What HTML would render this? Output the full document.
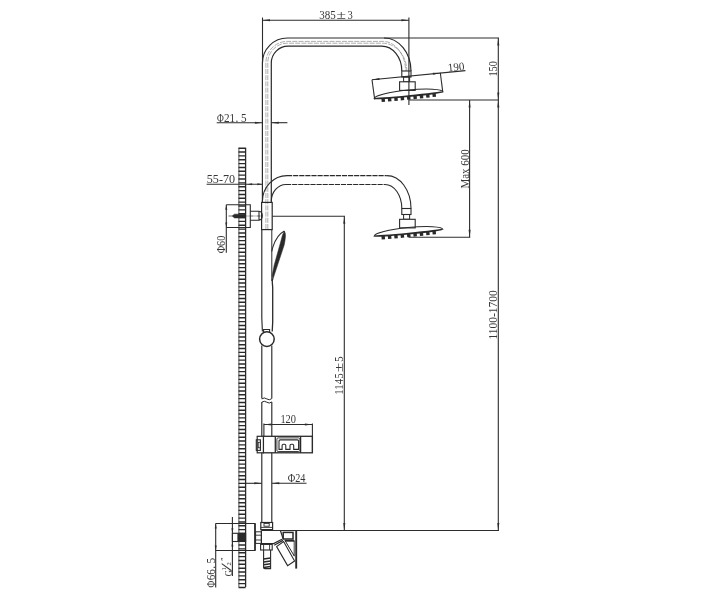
<!DOCTYPE html>
<html lang="en"><head><meta charset="utf-8"><title>Shower column dimensions</title>
<style>
html,body{margin:0;padding:0;background:#fff;}
body{width:706px;height:600px;overflow:hidden;font-family:"Liberation Serif",serif;}
svg{display:block;filter:blur(0.3px);}
</style></head><body>
<svg width="706" height="600" viewBox="0 0 706 600" fill="none" stroke-linecap="butt">
<rect x="0" y="0" width="706" height="600" fill="#fff"/>
<line x1="238.90" y1="147.80" x2="238.90" y2="587.00" stroke="#2a2a2a" stroke-width="0.8" />
<line x1="245.60" y1="147.80" x2="245.60" y2="587.00" stroke="#2a2a2a" stroke-width="1.3" />
<path d="M238.50 148.20H245.60M238.50 152.05H245.60M238.50 155.91H245.60M238.50 159.76H245.60M238.50 163.61H245.60M238.50 167.47H245.60M238.50 171.32H245.60M238.50 175.17H245.60M238.50 179.02H245.60M238.50 182.88H245.60M238.50 186.73H245.60M238.50 190.58H245.60M238.50 194.44H245.60M238.50 198.29H245.60M238.50 202.14H245.60M238.50 206.00H245.60M238.50 209.85H245.60M238.50 213.70H245.60M238.50 217.55H245.60M238.50 221.41H245.60M238.50 225.26H245.60M238.50 229.11H245.60M238.50 232.97H245.60M238.50 236.82H245.60M238.50 240.67H245.60M238.50 244.53H245.60M238.50 248.38H245.60M238.50 252.23H245.60M238.50 256.08H245.60M238.50 259.94H245.60M238.50 263.79H245.60M238.50 267.64H245.60M238.50 271.50H245.60M238.50 275.35H245.60M238.50 279.20H245.60M238.50 283.06H245.60M238.50 286.91H245.60M238.50 290.76H245.60M238.50 294.61H245.60M238.50 298.47H245.60M238.50 302.32H245.60M238.50 306.17H245.60M238.50 310.03H245.60M238.50 313.88H245.60M238.50 317.73H245.60M238.50 321.59H245.60M238.50 325.44H245.60M238.50 329.29H245.60M238.50 333.14H245.60M238.50 337.00H245.60M238.50 340.85H245.60M238.50 344.70H245.60M238.50 348.56H245.60M238.50 352.41H245.60M238.50 356.26H245.60M238.50 360.12H245.60M238.50 363.97H245.60M238.50 367.82H245.60M238.50 371.67H245.60M238.50 375.53H245.60M238.50 379.38H245.60M238.50 383.23H245.60M238.50 387.09H245.60M238.50 390.94H245.60M238.50 394.79H245.60M238.50 398.65H245.60M238.50 402.50H245.60M238.50 406.35H245.60M238.50 410.20H245.60M238.50 414.06H245.60M238.50 417.91H245.60M238.50 421.76H245.60M238.50 425.62H245.60M238.50 429.47H245.60M238.50 433.32H245.60M238.50 437.18H245.60M238.50 441.03H245.60M238.50 444.88H245.60M238.50 448.73H245.60M238.50 452.59H245.60M238.50 456.44H245.60M238.50 460.29H245.60M238.50 464.15H245.60M238.50 468.00H245.60M238.50 471.85H245.60M238.50 475.71H245.60M238.50 479.56H245.60M238.50 483.41H245.60M238.50 487.26H245.60M238.50 491.12H245.60M238.50 494.97H245.60M238.50 498.82H245.60M238.50 502.68H245.60M238.50 506.53H245.60M238.50 510.38H245.60M238.50 514.24H245.60M238.50 518.09H245.60M238.50 521.94H245.60M238.50 525.79H245.60M238.50 529.65H245.60M238.50 533.50H245.60M238.50 537.35H245.60M238.50 541.21H245.60M238.50 545.06H245.60M238.50 548.91H245.60M238.50 552.77H245.60M238.50 556.62H245.60M238.50 560.47H245.60M238.50 564.32H245.60M238.50 568.18H245.60M238.50 572.03H245.60M238.50 575.88H245.60M238.50 579.74H245.60M238.50 583.59H245.60M238.50 587.44H245.60" stroke="#2a2a2a" stroke-width="1.4" fill="none" />
<path d="M262.4 202.4V63 A25 25 0 0 1 287.4 38 H384 A27 33 0 0 1 411 71" stroke="#2a2a2a" stroke-width="1.2" fill="none" />
<path d="M261.8 229.6V318 L262.40000000000003 331.5 M261.8 345.6V398.6 M261.8 401.9V522.5" stroke="#2a2a2a" stroke-width="1.15" fill="none" />
<path d="M271.8 229.6 V281" stroke="#2a2a2a" stroke-width="1.0" fill="none" />
<path d="M271.8 345.6 V398.6" stroke="#2a2a2a" stroke-width="1.15" fill="none" />
<path d="M271.3 202.5V63 A16.8 16.8 0 0 1 288.1 46.2 H381.7 A20.1 24.8 0 0 1 401.8 71" stroke="#2a2a2a" stroke-width="1.2" fill="none" />
<path d="M271.8 401.9V522.5" stroke="#2a2a2a" stroke-width="1.15" fill="none" />
<path d="M265.9 229V63 A21.5 21.5 0 0 1 287.4 41.4 H383 A22.6 29.6 0 0 1 405.6 71" stroke="#777" stroke-width="0.6" fill="none" stroke-dasharray="5 1.2"/>
<path d="M267.8 229V63 A19.6 19.6 0 0 1 287.4 43.2 H382.5 A24.3 27.8 0 0 1 406.8 71" stroke="#777" stroke-width="0.6" fill="none" stroke-dasharray="5 1.2"/>
<path d="M261.8 398.9 q2.5 -1.9 5 0 t5 -0.3" stroke="#2a2a2a" stroke-width="1.0" fill="none" />
<path d="M261.8 402.2 q2.5 -1.9 5 0 t5 -0.3" stroke="#2a2a2a" stroke-width="1.0" fill="none" />
<path d="M262.4 201.5 A24.6 25.9 0 0 1 287 175.6" stroke="#2a2a2a" stroke-width="1.1" fill="none" />
<path d="M271.3 201.5 A14.7 17 0 0 1 286 184.5" stroke="#2a2a2a" stroke-width="1.1" fill="none" />
<path d="M287 175.6H386.8" stroke="#2a2a2a" stroke-width="1.1" fill="none" stroke-dasharray="5.2 0.9"/>
<path d="M286 184.5H385" stroke="#2a2a2a" stroke-width="1.1" fill="none" stroke-dasharray="5.2 0.9"/>
<path d="M386.8 175.6 A24.2 32.9 0 0 1 411 208.5" stroke="#2a2a2a" stroke-width="1.1" fill="none" />
<path d="M385 184.5 A16.8 24 0 0 1 401.8 208.5" stroke="#2a2a2a" stroke-width="1.1" fill="none" />
<g transform="translate(0 0)">
<rect x="401.80" y="71.00" width="9.20" height="6.00" stroke="#2a2a2a" stroke-width="1.1" fill="none"/>
<rect x="403.60" y="77.00" width="6.00" height="4.80" stroke="#2a2a2a" stroke-width="1.0" fill="none"/>
<rect x="399.60" y="81.80" width="15.60" height="8.60" stroke="#2a2a2a" stroke-width="1.1" fill="#fff"/>
<g transform="rotate(-5.58 408.5 95.25)">
<path d="M374.0 95.25 A34.5 5.2 0 0 1 443.0 95.25" stroke="#2a2a2a" stroke-width="1.1" fill="none" />
<path d="M374.0 95.25 A34.5 0.9 0 0 0 443.0 95.25" stroke="#2a2a2a" stroke-width="1.9" fill="none" />
<rect x="381.20" y="95.85" width="3.4" height="3.5" fill="#2a2a2a"/>
<rect x="387.60" y="96.00" width="3.4" height="3.5" fill="#2a2a2a"/>
<rect x="394.00" y="96.09" width="3.4" height="3.5" fill="#2a2a2a"/>
<rect x="400.40" y="96.13" width="3.4" height="3.5" fill="#2a2a2a"/>
<rect x="406.80" y="96.15" width="3.4" height="3.5" fill="#2a2a2a"/>
<rect x="413.20" y="96.13" width="3.4" height="3.5" fill="#2a2a2a"/>
<rect x="419.60" y="96.09" width="3.4" height="3.5" fill="#2a2a2a"/>
<rect x="426.00" y="96.00" width="3.4" height="3.5" fill="#2a2a2a"/>
<rect x="432.40" y="95.85" width="3.4" height="3.5" fill="#2a2a2a"/>
</g></g>
<g transform="translate(0 137.5)">
<rect x="401.80" y="71.00" width="9.20" height="6.00" stroke="#2a2a2a" stroke-width="1.1" fill="none"/>
<rect x="403.60" y="77.00" width="6.00" height="4.80" stroke="#2a2a2a" stroke-width="1.0" fill="none"/>
<rect x="399.60" y="81.80" width="15.60" height="8.60" stroke="#2a2a2a" stroke-width="1.1" fill="#fff"/>
<g transform="rotate(-5.58 408.5 95.25)">
<path d="M374.0 95.25 A34.5 5.2 0 0 1 443.0 95.25" stroke="#2a2a2a" stroke-width="1.1" fill="none" />
<path d="M374.0 95.25 A34.5 0.9 0 0 0 443.0 95.25" stroke="#2a2a2a" stroke-width="1.9" fill="none" />
<rect x="381.20" y="95.85" width="3.4" height="3.5" fill="#2a2a2a"/>
<rect x="387.60" y="96.00" width="3.4" height="3.5" fill="#2a2a2a"/>
<rect x="394.00" y="96.09" width="3.4" height="3.5" fill="#2a2a2a"/>
<rect x="400.40" y="96.13" width="3.4" height="3.5" fill="#2a2a2a"/>
<rect x="406.80" y="96.15" width="3.4" height="3.5" fill="#2a2a2a"/>
<rect x="413.20" y="96.13" width="3.4" height="3.5" fill="#2a2a2a"/>
<rect x="419.60" y="96.09" width="3.4" height="3.5" fill="#2a2a2a"/>
<rect x="426.00" y="96.00" width="3.4" height="3.5" fill="#2a2a2a"/>
<rect x="432.40" y="95.85" width="3.4" height="3.5" fill="#2a2a2a"/>
</g></g>
<rect x="261.60" y="202.40" width="10.60" height="27.20" stroke="#2a2a2a" stroke-width="1.2" fill="none"/>
<path d="M226.3 204.7H250.3V227.5H226.3" stroke="#2a2a2a" stroke-width="1.1" fill="none" />
<path d="M250.3 211.3H259 M250.3 220.2H259 M259 211.3V220.2 M259 211.3 C261.5 211.6 262.3 214 262.3 215.8 C262.3 217.6 261.5 219.9 259 220.2" stroke="#2a2a2a" stroke-width="1.1" fill="none" />
<path d="M232.2 216 L234.5 214.2 H245 V217.9 H234.5 Z" stroke="#2a2a2a" stroke-width="0.6" fill="#2a2a2a" />
<line x1="228.50" y1="216.00" x2="262.00" y2="216.00" stroke="#2c2c2c" stroke-width="0.7" stroke-dasharray="4 1 1 1"/>
<path d="M284.4 231 C279.5 233.5 275 240.5 273 246.7 C272.4 248.5 272 250 271.8 251.5" stroke="#2a2a2a" stroke-width="1.1" fill="none" />
<path d="M284.4 231 C285.2 232.5 285.6 234 285.5 236 C285.3 239 284.8 242.5 284.2 245 L280.9 255 L277.6 265 L274.3 275 L272.7 280 L272.2 275 L274.2 265 L277 255 L279.8 245 L282.5 235 Z" stroke="#2a2a2a" stroke-width="0.5" fill="#2a2a2a" stroke-linejoin="round"/>
<path d="M272.4 279 C272 283 272.7 285 272.7 288 V322 L272.2 331.5" stroke="#2a2a2a" stroke-width="1.3" fill="none" />
<circle cx="266.9" cy="339.1" r="7.3" fill="#fff" stroke="#2a2a2a" stroke-width="1.5"/>
<path d="M263.6 332.3V329.5H269.6V332" stroke="#2a2a2a" stroke-width="1.1" fill="none" />
<rect x="263.40" y="436.30" width="49.00" height="16.50" stroke="#2a2a2a" stroke-width="1.3" fill="#fff"/>
<rect x="257.20" y="436.30" width="6.20" height="16.50" stroke="#2a2a2a" stroke-width="1.2" fill="#fff"/>
<rect x="256.30" y="439.80" width="4.10" height="10.60" stroke="#2a2a2a" stroke-width="1.1" fill="none"/>
<rect x="258.20" y="442.30" width="2.20" height="5.50" stroke="#2a2a2a" stroke-width="0.9" fill="none"/>
<line x1="275.30" y1="436.30" x2="275.30" y2="452.80" stroke="#2a2a2a" stroke-width="1.3" />
<line x1="300.60" y1="436.30" x2="300.60" y2="452.80" stroke="#2a2a2a" stroke-width="1.3" />
<rect x="276.9" y="437.9" width="23.0" height="13.6" rx="1.2" fill="none" stroke="#2a2a2a" stroke-width="0.9"/>
<path d="M279 449.4V441 Q279 439.9 280.2 439.9 H297.4 Q298.6 439.9 298.6 441 V449.4 H293.7 V445.6 Q293.7 444.3 292.4 444.3 H291.3 Q290 444.3 290 445.6 V449.4 H285.8 V445.6 Q285.8 444.3 284.5 444.3 H283.4 Q282.1 444.3 282.1 445.6 V449.4 Z" stroke="#2a2a2a" stroke-width="1.1" fill="none" />
<rect x="260.80" y="522.50" width="11.80" height="7.10" stroke="#2a2a2a" stroke-width="1.2" fill="none"/>
<rect x="264.00" y="523.40" width="5.20" height="2.80" stroke="#2a2a2a" stroke-width="0.9" fill="none"/>
<line x1="260.80" y1="527.40" x2="272.60" y2="527.40" stroke="#2a2a2a" stroke-width="0.9" />
<path d="M215.5 523.5H255V550.5H215.5" stroke="#2a2a2a" stroke-width="1.2" fill="none" />
<line x1="255.00" y1="523.50" x2="255.00" y2="550.50" stroke="#2a2a2a" stroke-width="1.5" />
<rect x="232.40" y="533.30" width="13.20" height="8.20" stroke="#2a2a2a" stroke-width="1.1" fill="none"/>
<rect x="237.4" y="533.3" width="8.2" height="8.2" fill="#2a2a2a"/>
<rect x="255.60" y="531.80" width="5.80" height="11.60" stroke="#2a2a2a" stroke-width="1.0" fill="none"/>
<line x1="255.60" y1="535.20" x2="261.40" y2="535.20" stroke="#2a2a2a" stroke-width="0.9" />
<line x1="255.60" y1="540.00" x2="261.40" y2="540.00" stroke="#2a2a2a" stroke-width="0.9" />
<path d="M261.4 530.5V543.6H273.6L282 539.2 M280.4 530.5L283.2 539" stroke="#2a2a2a" stroke-width="1.2" fill="none" />
<path d="M274.2 545.2L283 540.4" stroke="#2a2a2a" stroke-width="1.2" fill="none" />
<rect x="283.20" y="532.40" width="9.80" height="6.60" stroke="#2a2a2a" stroke-width="1.5" fill="none"/>
<line x1="285.00" y1="540.80" x2="294.40" y2="540.80" stroke="#2a2a2a" stroke-width="1.8" />
<line x1="296.20" y1="530.50" x2="296.20" y2="568.60" stroke="#2a2a2a" stroke-width="1.9" />
<line x1="294.20" y1="540.80" x2="294.20" y2="556.00" stroke="#2a2a2a" stroke-width="0.9" />
<path d="M276.6 546.6L283.6 541.6L294.6 561L287.6 565.6Z" stroke="#2a2a2a" stroke-width="1.1" fill="none" />
<path d="M284.8 540.2L294.4 556.2" stroke="#2a2a2a" stroke-width="1.0" fill="none" />
<rect x="260.60" y="544.40" width="11.60" height="5.60" stroke="#2a2a2a" stroke-width="1.1" fill="none"/>
<line x1="263.60" y1="544.40" x2="263.60" y2="550.00" stroke="#2a2a2a" stroke-width="0.9" />
<line x1="269.60" y1="544.40" x2="269.60" y2="550.00" stroke="#2a2a2a" stroke-width="0.9" />
<path d="M263.6 550V567.5 Q263.6 568.6 264.8 568.6 H270.6 V550" stroke="#2a2a2a" stroke-width="1.1" fill="none" />
<line x1="263.60" y1="559.10" x2="270.60" y2="558.10" stroke="#2a2a2a" stroke-width="1.5" />
<line x1="263.60" y1="561.90" x2="270.60" y2="560.90" stroke="#2a2a2a" stroke-width="1.5" />
<line x1="263.60" y1="564.70" x2="270.60" y2="563.70" stroke="#2a2a2a" stroke-width="1.5" />
<line x1="263.60" y1="567.50" x2="270.60" y2="566.50" stroke="#2a2a2a" stroke-width="1.5" />
<line x1="262.50" y1="17.50" x2="262.50" y2="63.00" stroke="#2c2c2c" stroke-width="1.1" />
<line x1="408.90" y1="17.50" x2="408.90" y2="105.00" stroke="#2c2c2c" stroke-width="1.1" />
<line x1="262.50" y1="20.20" x2="408.90" y2="20.20" stroke="#2c2c2c" stroke-width="1.1" />
<polygon points="262.50,20.20 270.00,21.20 270.00,19.20" fill="#2c2c2c"/>
<polygon points="408.90,20.20 401.40,19.20 401.40,21.20" fill="#2c2c2c"/>
<line x1="384.00" y1="38.00" x2="499.00" y2="38.00" stroke="#2c2c2c" stroke-width="1.1" />
<line x1="409.00" y1="100.00" x2="499.00" y2="100.00" stroke="#2c2c2c" stroke-width="1.1" />
<line x1="498.30" y1="38.00" x2="498.30" y2="530.50" stroke="#2c2c2c" stroke-width="1.1" />
<polygon points="498.30,38.00 497.30,45.50 499.30,45.50" fill="#2c2c2c"/>
<polygon points="498.30,100.00 499.30,92.50 497.30,92.50" fill="#2c2c2c"/>
<polygon points="498.30,100.00 497.30,107.50 499.30,107.50" fill="#2c2c2c"/>
<polygon points="498.30,530.50 499.30,523.00 497.30,523.00" fill="#2c2c2c"/>
<line x1="469.60" y1="100.00" x2="469.60" y2="237.30" stroke="#2c2c2c" stroke-width="1.1" />
<line x1="408.50" y1="237.30" x2="470.20" y2="237.30" stroke="#2c2c2c" stroke-width="1.1" />
<polygon points="469.60,100.00 468.60,107.50 470.60,107.50" fill="#2c2c2c"/>
<polygon points="469.60,237.30 470.60,229.80 468.60,229.80" fill="#2c2c2c"/>
<line x1="272.20" y1="216.20" x2="345.00" y2="216.20" stroke="#2c2c2c" stroke-width="1.1" />
<line x1="344.30" y1="216.20" x2="344.30" y2="530.50" stroke="#2c2c2c" stroke-width="1.1" />
<polygon points="344.30,216.20 343.30,223.70 345.30,223.70" fill="#2c2c2c"/>
<polygon points="344.30,530.50 345.30,523.00 343.30,523.00" fill="#2c2c2c"/>
<line x1="261.40" y1="530.50" x2="499.00" y2="530.50" stroke="#2c2c2c" stroke-width="1.0" />
<line x1="372.00" y1="79.70" x2="465.40" y2="70.60" stroke="#2c2c2c" stroke-width="1.1" />
<line x1="372.00" y1="79.70" x2="374.70" y2="99.40" stroke="#2c2c2c" stroke-width="1.1" />
<line x1="440.30" y1="72.80" x2="442.80" y2="92.20" stroke="#2c2c2c" stroke-width="1.1" />
<polygon points="372.00,79.70 379.56,79.97 379.37,77.98" fill="#2c2c2c"/>
<polygon points="440.40,73.05 432.84,72.78 433.03,74.77" fill="#2c2c2c"/>
<line x1="216.70" y1="122.70" x2="262.40" y2="122.70" stroke="#2c2c2c" stroke-width="1.1" />
<line x1="271.30" y1="122.70" x2="287.40" y2="122.70" stroke="#2c2c2c" stroke-width="1.1" />
<polygon points="262.40,122.70 254.90,121.70 254.90,123.70" fill="#2c2c2c"/>
<polygon points="271.30,122.70 278.80,123.70 278.80,121.70" fill="#2c2c2c"/>
<line x1="206.60" y1="184.30" x2="262.40" y2="184.30" stroke="#2c2c2c" stroke-width="1.1" />
<polygon points="247.20,184.30 252.20,185.30 252.20,183.30" fill="#2c2c2c"/>
<polygon points="262.40,184.30 257.40,183.30 257.40,185.30" fill="#2c2c2c"/>
<line x1="226.30" y1="204.70" x2="226.30" y2="252.80" stroke="#2c2c2c" stroke-width="1.1" />
<polygon points="226.30,204.70 225.30,209.70 227.30,209.70" fill="#2c2c2c"/>
<polygon points="226.30,227.50 227.30,222.50 225.30,222.50" fill="#2c2c2c"/>
<line x1="263.90" y1="424.50" x2="312.40" y2="424.50" stroke="#2c2c2c" stroke-width="1.1" />
<line x1="263.90" y1="423.60" x2="263.90" y2="436.30" stroke="#2c2c2c" stroke-width="1.1" />
<line x1="312.40" y1="423.60" x2="312.40" y2="452.80" stroke="#2c2c2c" stroke-width="1.1" />
<polygon points="263.90,424.50 271.40,425.50 271.40,423.50" fill="#2c2c2c"/>
<polygon points="312.40,424.50 304.90,423.50 304.90,425.50" fill="#2c2c2c"/>
<line x1="245.60" y1="483.30" x2="261.80" y2="483.30" stroke="#2c2c2c" stroke-width="1.1" />
<line x1="271.80" y1="483.30" x2="306.50" y2="483.30" stroke="#2c2c2c" stroke-width="1.1" />
<polygon points="261.80,483.30 254.30,482.30 254.30,484.30" fill="#2c2c2c"/>
<polygon points="271.80,483.30 279.30,484.30 279.30,482.30" fill="#2c2c2c"/>
<line x1="215.70" y1="523.50" x2="215.70" y2="587.50" stroke="#2c2c2c" stroke-width="1.1" />
<polygon points="215.70,523.50 214.70,528.50 216.70,528.50" fill="#2c2c2c"/>
<polygon points="215.70,550.50 216.70,545.50 214.70,545.50" fill="#2c2c2c"/>
<line x1="232.40" y1="517.00" x2="232.40" y2="576.00" stroke="#2c2c2c" stroke-width="1.1" />
<polygon points="232.40,533.30 233.40,528.30 231.40,528.30" fill="#2c2c2c"/>
<polygon points="232.40,541.50 231.40,546.50 233.40,546.50" fill="#2c2c2c"/>
<g font-family="Liberation Serif, serif" fill="#333" style="opacity:0.98">
<text font-size="11.5" y="19.2"><tspan x="319.2" textLength="16.5" lengthAdjust="spacingAndGlyphs">385</tspan><tspan x="336.6" textLength="9.5" lengthAdjust="spacingAndGlyphs">±</tspan><tspan x="347.6" textLength="5.3" lengthAdjust="spacingAndGlyphs">3</tspan></text>
<text x="448.20" y="71.60" font-size="11.5" text-anchor="start" textLength="16.5" lengthAdjust="spacingAndGlyphs" transform="rotate(-5.58 448.20 71.60)" >190</text>
<text x="497.20" y="76.60" font-size="11.5" text-anchor="start" textLength="15.6" lengthAdjust="spacingAndGlyphs" transform="rotate(-90 497.20 76.60)" >150</text>
<text x="468.60" y="188.60" font-size="11.5" text-anchor="start" textLength="39.4" lengthAdjust="spacingAndGlyphs" transform="rotate(-90 468.60 188.60)" >Max 600</text>
<text x="497.20" y="339.60" font-size="11.5" text-anchor="start" textLength="49.4" lengthAdjust="spacingAndGlyphs" transform="rotate(-90 497.20 339.60)" >1100-1700</text>
<text font-size="11.5" transform="translate(343.2 394.8) rotate(-90)"><tspan x="0" textLength="21.6" lengthAdjust="spacingAndGlyphs">1145</tspan><tspan x="22.6" textLength="9.5" lengthAdjust="spacingAndGlyphs">±</tspan><tspan x="33" textLength="5.3" lengthAdjust="spacingAndGlyphs">5</tspan></text>
<text font-size="11.5" y="121.9"><tspan x="216.9" textLength="6.8" lengthAdjust="spacingAndGlyphs">Φ</tspan><tspan x="224" textLength="11.2" lengthAdjust="spacingAndGlyphs">21</tspan><tspan x="235.6">.</tspan><tspan x="240.9" textLength="5.6" lengthAdjust="spacingAndGlyphs">5</tspan></text>
<text x="206.80" y="183.40" font-size="11.5" text-anchor="start" textLength="28.3" lengthAdjust="spacingAndGlyphs" >55-70</text>
<text x="225.20" y="253.30" font-size="11.5" text-anchor="start" textLength="17.6" lengthAdjust="spacingAndGlyphs" transform="rotate(-90 225.20 253.30)" >Φ60</text>
<text x="280.40" y="423.40" font-size="11.5" text-anchor="start" textLength="15.6" lengthAdjust="spacingAndGlyphs" >120</text>
<text font-size="11.5" transform="translate(214.9 587.5) rotate(-90)"><tspan x="0" textLength="6.8" lengthAdjust="spacingAndGlyphs">Φ</tspan><tspan x="7.2" textLength="11.2" lengthAdjust="spacingAndGlyphs">66</tspan><tspan x="18.8">.</tspan><tspan x="24.1" textLength="5.6" lengthAdjust="spacingAndGlyphs">5</tspan></text>
<text x="287.70" y="482.30" font-size="11.5" text-anchor="start" textLength="17.7" lengthAdjust="spacingAndGlyphs" >Φ24</text>
<g transform="translate(231.9 576.2) rotate(-90)">
<text x="0" y="0" font-size="11" textLength="6.2" lengthAdjust="spacingAndGlyphs">G</text>
<text x="5.6" y="-6" font-size="6.5">1</text>
<line x1="5.4" y1="-0.4" x2="12.6" y2="-10.2" stroke="#333" stroke-width="1.1"/>
<text x="10.8" y="-1.2" font-size="6.5">2</text>
<text x="15.4" y="-4.5" font-size="8">″</text>
</g>
</g>
</svg>
</body></html>
